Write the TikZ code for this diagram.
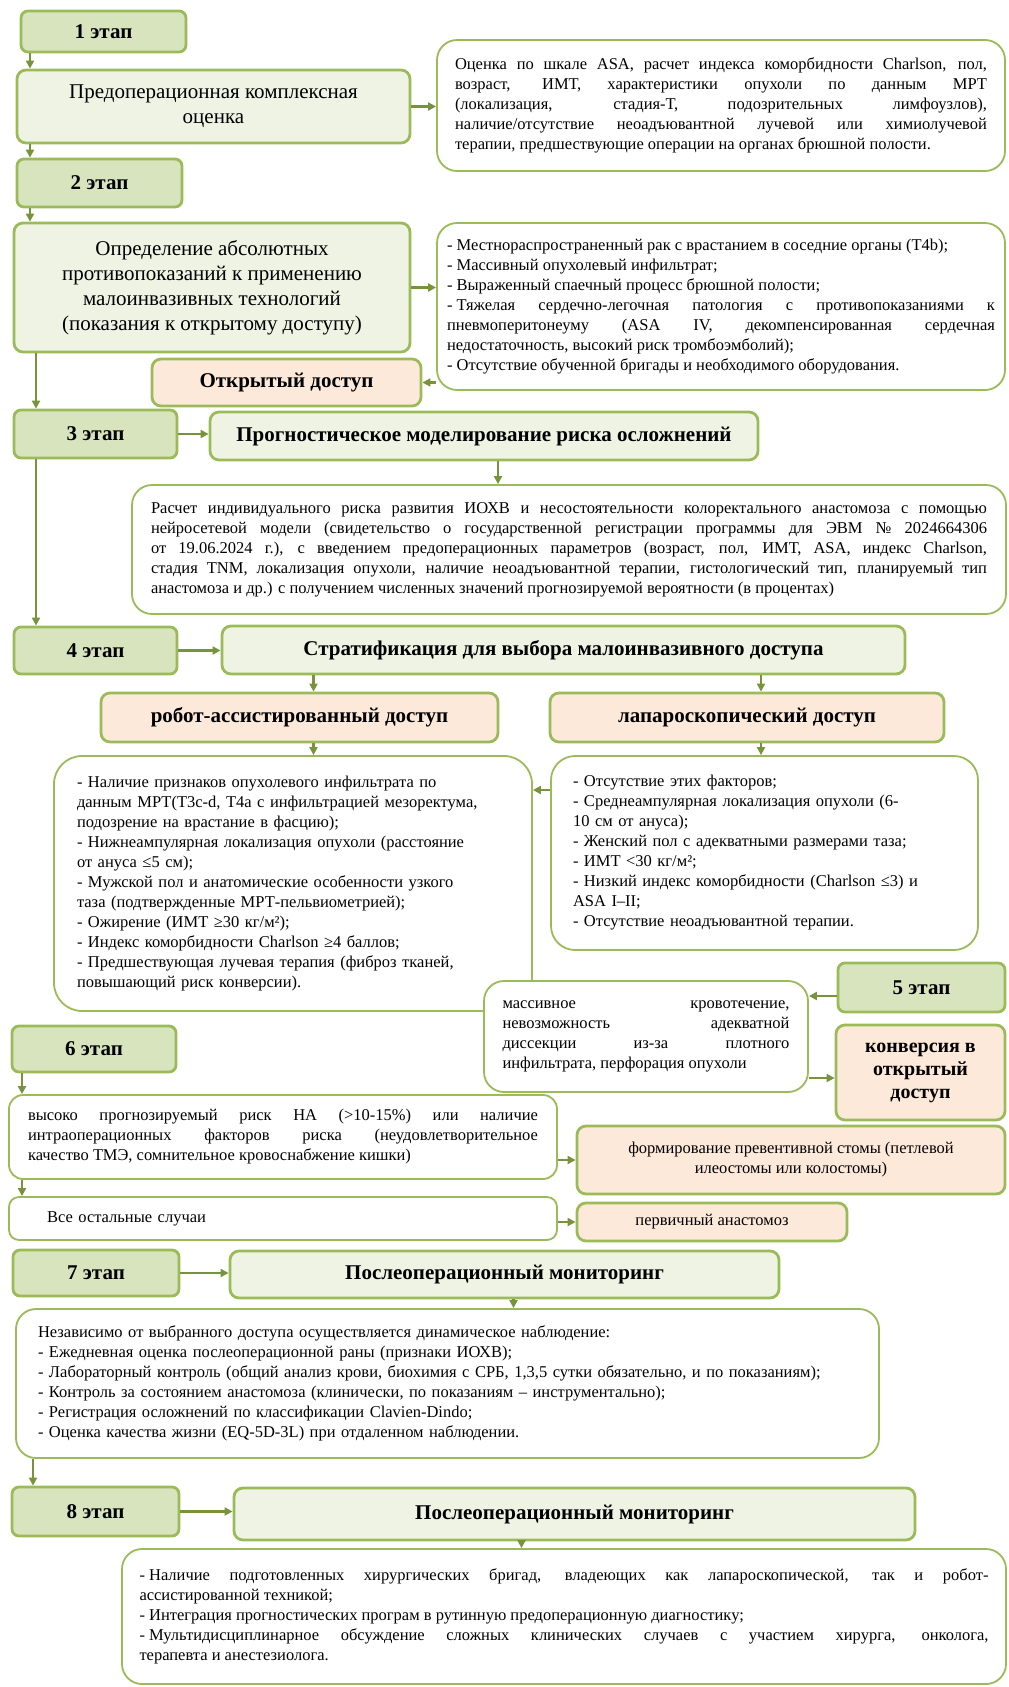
\documentclass[tikz,border=0pt]{standalone}
\usepackage{fontspec}
\setmainfont{Liberation Serif}
\usetikzlibrary{arrows.meta}
\definecolor{etapfill}{HTML}{D7E4BD}
\definecolor{headfill}{HTML}{EEF3E3}
\definecolor{peachfill}{HTML}{FDE9D9}
\definecolor{boxline}{HTML}{9BBB59}
\definecolor{arrline}{HTML}{77933C}
\newcommand{\smalltxt}{\fontsize{16.5}{20}\selectfont}
\newcommand{\headtxt}{\fontsize{21}{25}\selectfont}
\newcommand{\dsh}{-\hspace{0.25em}}
\hyphenpenalty=10000
\exhyphenpenalty=10000
\tolerance=10000
\hbadness=10000
\tikzset{
  etap/.style={draw=boxline, line width=2.8pt, fill=etapfill, rounded corners=7pt, inner sep=0pt, font=\bfseries\headtxt},
  head/.style={draw=boxline, line width=2.8pt, fill=headfill, rounded corners=9pt, inner sep=0pt, align=center, font=\headtxt},
  headb/.style={head, font=\bfseries\headtxt},
  peach/.style={draw=boxline, line width=2.8pt, fill=peachfill, rounded corners=9pt, inner sep=0pt, align=center, font=\bfseries\headtxt},
  note/.style={draw=boxline, line width=1.8pt, fill=white, rounded corners=20pt, inner sep=0pt, font=\smalltxt},
  arr/.style={draw=arrline, line width=2.2pt, -{Triangle[length=8pt,width=8pt]}},
}

\begin{document}
\begin{tikzpicture}[x=1pt,y=-1pt]
\useasboundingbox (0,0) rectangle (1009,1687);

\node[etap, minimum width=165pt, minimum height=41pt] (e1) at (103.5,31.5) {1 этап};
\node[head, minimum width=393pt, minimum height=73pt] (pre) at (213.5,106.5) {Предоперационная комплексная\\оценка};
\node[note, minimum width=568pt, minimum height=131pt, text width=532pt, align=justify] (asa) at (721,105.5) {Оценка по шкале ASA, расчет индекса коморбидности Charlson, пол,\linebreak возраст, ИМТ, характеристики опухоли по данным МРТ\linebreak (локализация, стадия-Т, подозрительных лимфоузлов),\linebreak наличие/отсутствие неоадъювантной лучевой или химиолучевой\linebreak терапии, предшествующие операции на органах брюшной полости.};
\node[etap, minimum width=165pt, minimum height=48pt] (e2) at (99.5,183) {2 этап};
\node[head, minimum width=396pt, minimum height=129pt] (absc) at (212,287.5) {Определение абсолютных\\противопоказаний к применению\\малоинвазивных технологий\\(показания к открытому доступу)};
\node[note, minimum width=568pt, minimum height=167pt, text width=548pt, align=justify] (contra) at (721,306.5) {\dsh Местнораспространенный рак с врастанием в соседние органы (T4b);\\\dsh Массивный опухолевый инфильтрат;\\\dsh Выраженный спаечный процесс брюшной полости;\\\dsh Тяжелая сердечно-легочная патология с противопоказаниями к\linebreak пневмоперитонеуму (ASA IV, декомпенсированная сердечная\linebreak недостаточность, высокий риск тромбоэмболий);\\\dsh Отсутствие обученной бригады и необходимого оборудования.};
\node[peach, minimum width=269pt, minimum height=47pt] (open) at (286.5,382.5) {Открытый доступ};
\node[etap, minimum width=163pt, minimum height=48pt] (e3) at (95.5,434) {3 этап};
\node[headb, minimum width=548pt, minimum height=48pt] (prog) at (484,436) {Прогностическое моделирование риска осложнений};
\node[note, minimum width=874pt, minimum height=129pt, text width=836pt, align=justify] (calc) at (569,549.5) {Расчет индивидуального риска развития ИОХВ и несостоятельности колоректального анастомоза с помощью\linebreak нейросетевой модели (свидетельство о государственной регистрации программы для ЭВМ № 2024664306\linebreak от 19.06.2024 г.), с введением предоперационных параметров (возраст, пол, ИМТ, ASA, индекс Charlson,\linebreak стадия TNM, локализация опухоли, наличие неоадъювантной терапии, гистологический тип, планируемый тип\linebreak анастомоза и др.) с получением численных значений прогнозируемой вероятности (в процентах)};
\node[etap, minimum width=163pt, minimum height=47pt] (e4) at (95.5,650.5) {4 этап};
\node[headb, minimum width=683pt, minimum height=48pt] (strat) at (563.5,650) {Стратификация для выбора малоинвазивного доступа};
\node[peach, minimum width=397pt, minimum height=49pt] (robot) at (299.5,717.5) {робот-ассистированный доступ};
\node[peach, minimum width=394pt, minimum height=49pt] (lap) at (747,717.5) {лапароскопический доступ};
\node[note, rounded corners=28pt, minimum width=478pt, minimum height=255pt, text width=432pt, align=left] (rfac) at (293,883.5) {- Наличие признаков опухолевого инфильтрата по\\данным МРТ(Т3с-d, Т4а с инфильтрацией мезоректума,\\подозрение на врастание в фасцию);\\- Нижнеампулярная локализация опухоли (расстояние\\от ануса ≤5 см);\\- Мужской пол и анатомические особенности узкого\\таза (подтвержденные МРТ-пельвиометрией);\\- Ожирение (ИМТ ≥30 кг/м²);\\- Индекс коморбидности Charlson ≥4 баллов;\\- Предшествующая лучевая терапия (фиброз тканей,\\повышающий риск конверсии).};
\node[note, rounded corners=24pt, minimum width=427pt, minimum height=194pt, text width=383pt, align=left] (lfac) at (764.5,853) {- Отсутствие этих факторов;\\- Среднеампулярная локализация опухоли (6-\\10 см от ануса);\\- Женский пол с адекватными размерами таза;\\- ИМТ <30 кг/м²;\\- Низкий индекс коморбидности (Charlson ≤3) и\\ASA I–II;\\- Отсутствие неоадъювантной терапии.};
\node[etap, minimum width=167pt, minimum height=49pt] (e5) at (921.5,987.5) {5 этап};
\node[note, minimum width=324pt, minimum height=111pt, text width=287pt, align=justify] (mass) at (646,1036.5) {массивное кровотечение,\linebreak невозможность адекватной\linebreak диссекции из-за плотного\linebreak инфильтрата, перфорация опухоли};
\node[peach, font=\bfseries\fontsize{20}{23}\selectfont, minimum width=169pt, minimum height=95pt] (conv) at (920.5,1072.5) {конверсия в\\открытый\\доступ};
\node[etap, minimum width=164pt, minimum height=46pt] (e6) at (94,1049) {6 этап};
\node[note, rounded corners=14pt, minimum width=548pt, minimum height=84pt, text width=510pt, align=justify] (high) at (283,1137) {высоко прогнозируемый риск НА (>10-15\%) или наличие\linebreak интраоперационных факторов риска (неудовлетворительное\linebreak качество ТМЭ, сомнительное кровоснабжение кишки)};
\node[peach, font=\smalltxt, minimum width=428pt, minimum height=68pt] (form) at (791,1160) {формирование превентивной стомы (петлевой\\илеостомы или колостомы)};
\node[note, rounded corners=10pt, minimum width=548pt, minimum height=43pt, text width=508pt, align=left] (rest) at (283,1218.5) {\hspace*{18pt}Все остальные случаи};
\node[peach, font=\smalltxt, minimum width=270pt, minimum height=38pt] (prim) at (712,1222) {первичный анастомоз};
\node[etap, minimum width=166pt, minimum height=46pt] (e7) at (96,1273) {7 этап};
\node[headb, minimum width=549pt, minimum height=47pt] (post7) at (504.5,1274.5) {Послеоперационный мониторинг};
\node[note, minimum width=863pt, minimum height=149pt, text width=819pt, align=left] (indep) at (447.5,1383.5) {Независимо от выбранного доступа осуществляется динамическое наблюдение:\\- Ежедневная оценка послеоперационной раны (признаки ИОХВ);\\- Лабораторный контроль (общий анализ крови, биохимия с СРБ, 1,3,5 сутки обязательно, и по показаниям);\\- Контроль за состоянием анастомоза (клинически, по показаниям – инструментально);\\- Регистрация осложнений по классификации Clavien-Dindo;\\- Оценка качества жизни (EQ-5D-3L) при отдаленном наблюдении.};
\node[etap, minimum width=167pt, minimum height=49pt] (e8) at (95.5,1511.5) {8 этап};
\node[headb, minimum width=681pt, minimum height=52pt] (post8) at (574.5,1514) {Послеоперационный мониторинг};
\node[note, minimum width=884pt, minimum height=135pt, text width=849pt, align=justify] (final) at (564,1616.5) {\dsh Наличие подготовленных хирургических бригад, владеющих как лапароскопической, так и робот-\linebreak ассистированной техникой;\\\dsh Интеграция прогностических програм в рутинную предоперационную диагностику;\\\dsh Мультидисциплинарное обсуждение сложных клинических случаев с участием хирурга, онколога,\linebreak терапевта и анестезиолога.};

\coordinate (lx1) at (30,0);
\coordinate (lx2) at (36,0);
\coordinate (lx3) at (22,0);
\coordinate (lx4) at (33,0);
\coordinate (ly1) at (0,790);
\coordinate (ly2) at (0,996);
\coordinate (ly3) at (0,1078);

\draw[arr] (e1.south -| lx1) -- (pre.north -| lx1);
\draw[arr] (pre.south -| lx1) -- (e2.north -| lx1);
\draw[arr] (e2.south -| lx1) -- (absc.north -| lx1);
\draw[arr] (absc.south -| lx2) -- (e3.north -| lx2);
\draw[arr] (e3.south -| lx2) -- (e4.north -| lx2);
\draw[arr] (pre.east) -- (pre.east -| asa.west);
\draw[arr] (absc.east) -- (absc.east -| contra.west);
\draw[arr] (open.east -| contra.west) -- (open.east);
\draw[arr] (e3.east) -- (e3.east -| prog.west);
\draw[arr] ([xshift=14pt]prog.south) -- ([xshift=14pt]prog.south |- calc.north);
\draw[arr] (e4.east) -- (e4.east -| strat.west);
\draw[arr] ([xshift=14pt]robot.north |- strat.south) -- ([xshift=14pt]robot.north);
\draw[arr] ([xshift=14pt]lap.north |- strat.south) -- ([xshift=14pt]lap.north);
\draw[arr] ([xshift=14pt]robot.south) -- ([xshift=14pt]robot.south |- rfac.north);
\draw[arr] ([xshift=14pt]lap.south) -- ([xshift=14pt]lap.south |- lfac.north);
\draw[arr] (lfac.west |- ly1) -- (rfac.east |- ly1);
\draw[arr] (e5.west |- ly2) -- (mass.east |- ly2);
\draw[arr] (mass.east |- ly3) -- (conv.west |- ly3);
\draw[arr] (e6.south -| lx3) -- (high.north -| lx3);
\draw[arr] (high.south -| lx3) -- (rest.north -| lx3);
\draw[arr] (high.east |- form.west) -- (form.west);
\draw[arr] (rest.east |- prim.west) -- (prim.west);
\draw[arr] (e7.east) -- (e7.east -| post7.west);
\draw[arr] ([xshift=9pt]post7.south) -- ([xshift=9pt]post7.south |- indep.north);
\draw[arr] (indep.south -| lx4) -- (e8.north -| lx4);
\draw[arr] (e8.east) -- (e8.east -| post8.west);
\draw[arr] ([xshift=-53pt]post8.south) -- ([xshift=-53pt]post8.south |- final.north);
\end{tikzpicture}
\end{document}
